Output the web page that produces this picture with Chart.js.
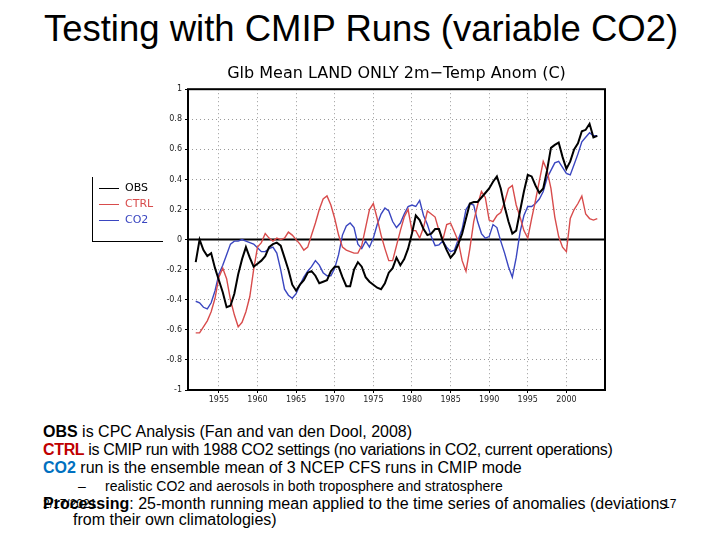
<!DOCTYPE html>
<html>
<head>
<meta charset="utf-8">
<script src="https://cdn.jsdelivr.net/npm/chart.js@4.4.1/dist/chart.umd.min.js"></script>
<style>
  html, body { margin: 0; padding: 0; background: #fff; }
  body { width: 720px; height: 540px; position: relative; overflow: hidden; font-family: "Liberation Sans", Arial, sans-serif; color: #000; }
  .abs { position: absolute; white-space: nowrap; }
  #title { left: 0; width: 722px; text-align: center; top: 11px; font-size: 36.5px; line-height: 36px; }
  #chartBox { position: absolute; left: 150px; top: 55px; width: 470px; height: 360px; }
  #legend { position: absolute; left: 92px; top: 177px; width: 70px; height: 64px; border-left: 1px solid #000; border-bottom: 1px solid #000; font-family: "DejaVu Sans", sans-serif; font-size: 11px; }
  .lg { position: absolute; left: 6px; height: 14px; line-height: 14px; }
  .lg span.ln { display: inline-block; width: 20px; height: 0; border-top: 1px solid; vertical-align: middle; margin-right: 6px; }
  .txt { font-size: 16px; line-height: 18px; }
  .b { font-weight: bold; }
</style>
</head>
<body>
<div id="title" class="abs">Testing with CMIP Runs (variable CO2)</div>
<div id="chartBox"><canvas id="c"></canvas></div>
<div id="legend">
  <div class="lg" style="top:4px;color:#000"><span class="ln" style="border-color:#000"></span>OBS</div>
  <div class="lg" style="top:20px;color:#d84c4c"><span class="ln" style="border-color:#d84c4c"></span>CTRL</div>
  <div class="lg" style="top:36px;color:#3a46c0"><span class="ln" style="border-color:#3a46c0"></span>CO2</div>
</div>
<div class="abs txt" style="left:43px;top:423px"><span class="b">OBS</span> is CPC Analysis (Fan and van den Dool, 2008)</div>
<div class="abs txt" style="left:43px;top:441px;letter-spacing:-0.35px"><span class="b" style="color:#c00000">CTRL</span> is CMIP run with 1988 CO2 settings (no variations in CO2, current operations)</div>
<div class="abs txt" style="left:43px;top:459px"><span class="b" style="color:#0070c0">CO2</span> run is the ensemble mean of 3 NCEP CFS runs in CMIP mode</div>
<div class="abs" style="left:78px;top:479px;font-size:14px;line-height:15px">–</div>
<div class="abs" style="left:105px;top:479px;font-size:14px;line-height:15px">realistic CO2 and aerosols in both troposphere and stratosphere</div>
<div class="abs txt" style="left:43px;top:495px"><span class="b">Processing</span>: 25-month running mean applied to the time series of anomalies (deviations</div>
<div class="abs" style="left:43px;top:497px;font-size:12px;line-height:15px">2/17/2021</div>
<div class="abs" style="left:663px;top:497px;font-size:12px;line-height:15px">17</div>
<div class="abs txt" style="left:73px;top:511px">from their own climatologies)</div>
<script>
const years = [
  1952, 1952.5, 1953, 1953.5, 1954, 1954.5, 1955, 1955.5, 1956, 1956.5,
  1957, 1957.5, 1958, 1958.5, 1959, 1959.5, 1960, 1960.5, 1961, 1961.5,
  1962, 1962.5, 1963, 1963.5, 1964, 1964.5, 1965, 1965.5, 1966, 1966.5,
  1967, 1967.5, 1968, 1968.5, 1969, 1969.5, 1970, 1970.5, 1971, 1971.5,
  1972, 1972.5, 1973, 1973.5, 1974, 1974.5, 1975, 1975.5, 1976, 1976.5,
  1977, 1977.5, 1978, 1978.5, 1979, 1979.5, 1980, 1980.5, 1981, 1981.5,
  1982, 1982.5, 1983, 1983.5, 1984, 1984.5, 1985, 1985.5, 1986, 1986.5,
  1987, 1987.5, 1988, 1988.5, 1989, 1989.5, 1990, 1990.5, 1991, 1991.5,
  1992, 1992.5, 1993, 1993.5, 1994, 1994.5, 1995, 1995.5, 1996, 1996.5,
  1997, 1997.5, 1998, 1998.5, 1999, 1999.5, 2000, 2000.5, 2001, 2001.5,
  2002, 2002.5, 2003, 2003.5, 2004
];
const obs = [
  -0.15, 0.0, -0.07, -0.11, -0.09, -0.19, -0.27, -0.35, -0.45, -0.44,
  -0.36, -0.23, -0.13, -0.05, -0.12, -0.18, -0.16, -0.14, -0.11, -0.05,
  -0.03, -0.02, -0.04, -0.12, -0.20, -0.30, -0.34, -0.30, -0.27, -0.22,
  -0.21, -0.24, -0.29, -0.28, -0.27, -0.21, -0.18, -0.18, -0.25, -0.31,
  -0.31, -0.20, -0.15, -0.18, -0.25, -0.28, -0.30, -0.32, -0.33, -0.29,
  -0.22, -0.19, -0.12, -0.17, -0.13, -0.06, 0.04, 0.16, 0.13, 0.07,
  0.03, 0.04, 0.07, 0.07, -0.01, -0.07, -0.12, -0.09, -0.03, 0.04,
  0.14, 0.24, 0.25, 0.25, 0.28, 0.31, 0.34, 0.385, 0.42, 0.34,
  0.22, 0.12, 0.04, 0.06, 0.19, 0.32, 0.43, 0.42, 0.36, 0.31,
  0.34, 0.46, 0.61, 0.63, 0.645, 0.55, 0.47, 0.52, 0.60, 0.64,
  0.72, 0.73, 0.77, 0.68, 0.69
];
const ctrl = [
  -0.62, -0.62, -0.58, -0.54, -0.48, -0.39, -0.25, -0.19, -0.26, -0.40,
  -0.50, -0.58, -0.55, -0.48, -0.38, -0.20, -0.05, -0.02, 0.04, 0.01,
  -0.01, 0.01, 0.00, 0.01, 0.05, 0.03, 0.00, -0.03, -0.07, -0.05,
  0.03, 0.11, 0.20, 0.27, 0.29, 0.23, 0.14, 0.03, -0.05, -0.07,
  -0.08, -0.09, -0.09, -0.04, 0.08, 0.20, 0.24, 0.14, 0.03, -0.06,
  -0.14, -0.14, -0.04, 0.06, 0.15, 0.20, 0.06, 0.06, 0.01, 0.08,
  0.19, 0.17, 0.15, 0.06, 0.00, 0.10, 0.11, 0.05, -0.01, -0.14,
  -0.21, -0.06, 0.12, 0.23, 0.32, 0.28, 0.13, 0.12, 0.16, 0.18,
  0.25, 0.34, 0.36, 0.23, 0.15, 0.06, 0.01, 0.14, 0.26, 0.39,
  0.52, 0.46, 0.34, 0.15, 0.02, -0.05, -0.08, 0.14, 0.20, 0.24,
  0.29, 0.17, 0.14, 0.13, 0.14
];
const co2 = [
  -0.41, -0.42, -0.45, -0.46, -0.42, -0.34, -0.23, -0.17, -0.10, -0.03,
  -0.01, -0.01, 0.00, -0.01, -0.02, -0.03, -0.055, -0.08, -0.08, -0.06,
  -0.05, -0.09, -0.20, -0.33, -0.37, -0.39, -0.36, -0.30, -0.25, -0.21,
  -0.18, -0.14, -0.17, -0.22, -0.24, -0.24, -0.19, -0.10, 0.03, 0.09,
  0.11, 0.08, -0.03, -0.06, -0.01, -0.05, 0.01, 0.10, 0.17, 0.21,
  0.19, 0.12, 0.08, 0.11, 0.17, 0.22, 0.23, 0.22, 0.26, 0.16,
  0.10, 0.02, -0.04, -0.035, -0.01, -0.05, -0.08, -0.07, 0.00, 0.07,
  0.20, 0.24, 0.23, 0.12, 0.04, 0.01, 0.02, 0.10, 0.08, -0.01,
  -0.09, -0.18, -0.25, -0.12, 0.05, 0.16, 0.22, 0.22, 0.24, 0.27,
  0.32, 0.41, 0.46, 0.51, 0.52, 0.48, 0.44, 0.43, 0.50, 0.57,
  0.65, 0.68, 0.71, 0.69, 0.69
];
const xTicks = [1955, 1960, 1965, 1970, 1975, 1980, 1985, 1990, 1995, 2000];
const yTicks = [1, 0.8, 0.6, 0.4, 0.2, 0, -0.2, -0.4, -0.6, -0.8, -1];
const yTickLabels = ["1", "0.8", "0.6", "0.4", "0.2", "0", "-0.2", "-0.4", "-0.6", "-0.8", "-1"];

const pts = arr => arr.map((v, i) => ({ x: years[i], y: v }));

const framePlugin = {
  id: 'frame',
  beforeDatasetsDraw(chart) {
    const { ctx, chartArea: a, scales } = chart;
    const y0 = scales.y.getPixelForValue(0);
    ctx.save();
    ctx.strokeStyle = '#000';
    ctx.lineWidth = 2;
    ctx.beginPath();
    ctx.moveTo(a.left, y0);
    ctx.lineTo(a.right, y0);
    ctx.stroke();
    ctx.restore();
  },
  afterDatasetsDraw(chart) {
    const { ctx, chartArea: a } = chart;
    ctx.save();
    ctx.strokeStyle = '#000';
    ctx.lineWidth = 2;
    ctx.strokeRect(a.left, a.top, a.right - a.left, a.bottom - a.top);
    ctx.restore();
  }
};

new Chart(document.getElementById('c'), {
  type: 'line',
  data: {
    datasets: [
      { label: 'OBS', data: pts(obs), borderColor: '#000000', borderWidth: 2, pointRadius: 0, tension: 0 },
      { label: 'CTRL', data: pts(ctrl), borderColor: '#d84c4c', borderWidth: 1.4, pointRadius: 0, tension: 0 },
      { label: 'CO2', data: pts(co2), borderColor: '#3a46c0', borderWidth: 1.4, pointRadius: 0, tension: 0 }
    ]
  },
  options: {
    responsive: true,
    maintainAspectRatio: false,
    animation: false,
    layout: { padding: { left: 0, right: 15, top: 0, bottom: 0 } },
    plugins: {
      legend: { display: false },
      tooltip: { enabled: false },
      title: {
        display: true,
        text: 'Glb Mean LAND ONLY 2m\u2212Temp Anom (C)',
        fullSize: false,
        color: '#000',
        font: { family: 'DejaVu Sans', size: 16, weight: 'normal', lineHeight: 1.2 },
        padding: { top: 9, bottom: 6 }
      }
    },
    scales: {
      x: {
        type: 'linear',
        min: 1951,
        max: 2005,
        afterBuildTicks: s => { s.ticks = xTicks.map(v => ({ value: v })); },
        afterFit: s => { s.height = 25; },
        ticks: { font: { family: 'DejaVu Sans', size: 8 }, color: '#222', padding: 2, maxRotation: 0, autoSkip: false, callback: v => String(v) },
        grid: { color: '#9a9a9a', lineWidth: 1, drawTicks: true, tickLength: 3, tickColor: '#000' },
        border: { display: false, dash: [1, 3] }
      },
      y: {
        type: 'linear',
        min: -1,
        max: 1,
        afterBuildTicks: s => { s.ticks = yTicks.map(v => ({ value: v })); },
        afterFit: s => { s.width = 38; },
        ticks: { font: { family: 'DejaVu Sans', size: 8 }, color: '#222', padding: 3, autoSkip: false,
                 callback: (v) => { const i = yTicks.indexOf(v); return i >= 0 ? yTickLabels[i] : ''; } },
        grid: { color: '#9a9a9a', lineWidth: 1, drawTicks: true, tickLength: 3, tickColor: '#000' },
        border: { display: false, dash: [1, 3] }
      }
    }
  },
  plugins: [framePlugin]
});
</script>
</body>
</html>
